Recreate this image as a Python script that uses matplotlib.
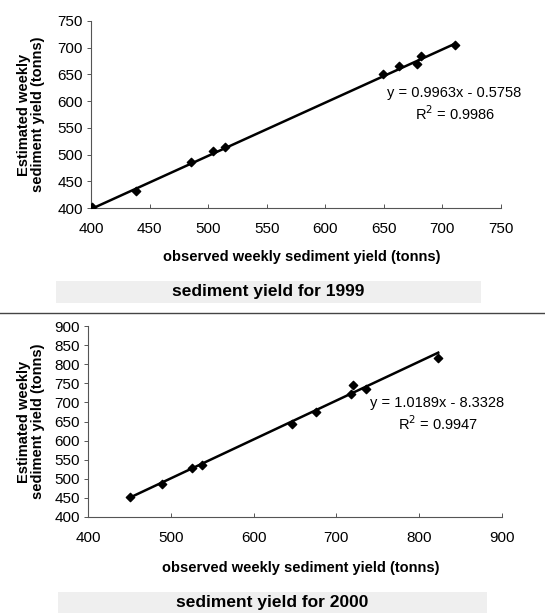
import matplotlib
matplotlib.use("Agg")
import matplotlib.pyplot as plt
from matplotlib.patches import Rectangle
from matplotlib.lines import Line2D

plt.rcParams['font.family'] = ['Liberation Sans', 'DejaVu Sans']

# 1999 data
obs_1999 = [401, 438, 485, 504, 514, 649, 663, 678, 682, 711]
est_1999 = [401, 432, 487, 506, 515, 650, 665, 670, 685, 705]
slope_1999, icpt_1999, r2_1999 = 0.9963, -0.5758, 0.9986

# 2000 data
obs_2000 = [451, 489, 526, 538, 646, 675, 718, 720, 736, 823]
est_2000 = [452, 487, 527, 536, 643, 676, 721, 746, 734, 815]
slope_2000, icpt_2000, r2_2000 = 1.0189, -8.3328, 0.9947

ticks_1999 = [400, 450, 500, 550, 600, 650, 700, 750]
ticks_2000_x = [400, 500, 600, 700, 800, 900]
ticks_2000_y = [400, 450, 500, 550, 600, 650, 700, 750, 800, 850, 900]

W, H = 545, 613
fig = plt.figure(figsize=(W/100, H/100), dpi=100)

def px(x0, y0, x1, y1):
    return [x0/W, 1 - y1/H, (x1-x0)/W, (y1-y0)/H]

def style(ax):
    for s in ['top', 'right']:
        ax.spines[s].set_visible(False)
    for s in ['left', 'bottom']:
        ax.spines[s].set_color('#555555')
        ax.spines[s].set_linewidth(0.8)
    ax.tick_params(axis='both', labelsize=11, color='#555555', width=0.7, length=3)
    ax.tick_params(axis='x', direction='in', pad=10)
    ax.tick_params(axis='y', direction='out', pad=3)

def panel(rect, obs, est, slope, icpt, r2, xt, yt, eq_xy, title, title_box, xlabel_y):
    ax = fig.add_axes(px(*rect))
    style(ax)
    ax.scatter(obs, est, marker='D', s=18, color='black', zorder=3)
    x0, x1 = min(obs), max(obs)
    ax.plot([x0, x1], [slope*x0+icpt, slope*x1+icpt], color='black', lw=1.8, zorder=2)
    ax.set_xlim(xt[0], xt[-1])
    ax.set_ylim(yt[0], yt[-1])
    ax.set_xticks(xt)
    ax.set_yticks(yt)
    fig.text(31/W, 1-(rect[1]+rect[3])/2/H, 'Estimated weekly\nsediment yield (tonns)', fontsize=10.5,
             fontweight='bold', rotation=90, ha='center', va='center', linespacing=1.05)
    fig.text((rect[0]+rect[2])/2/W + 0.01, 1-xlabel_y/H, 'observed weekly sediment yield (tonns)',
             fontsize=10.5, fontweight='bold', ha='center', va='center')
    sign = '-' if icpt < 0 else '+'
    fig.text(eq_xy[0]/W, 1-eq_xy[1]/H, f'y = {slope:.4f}x {sign} {abs(icpt):.4f}', fontsize=10.5, ha='center', va='center')
    fig.text((eq_xy[0]+1)/W, 1-(eq_xy[1]+21)/H, f'R$^2$ = {r2:.4f}', fontsize=10.5, ha='center', va='center')
    bx0, by0, bx1, by1 = title_box
    fig.patches.append(Rectangle((bx0/W, 1-by1/H), (bx1-bx0)/W, (by1-by0)/H, transform=fig.transFigure,
                                 facecolor='#efefef', edgecolor='none', zorder=0))
    fig.text((bx0+bx1)/2/W, 1-((by0+by1)/2)/H, title, fontsize=12.5, fontweight='bold', ha='center', va='center')
    return ax

panel((91, 21, 501, 208), obs_1999, est_1999, slope_1999, icpt_1999, r2_1999,
      ticks_1999, ticks_1999, (454, 93), 'sediment yield for 1999', (56, 281, 481, 303), 257)
panel((88, 326, 502, 517), obs_2000, est_2000, slope_2000, icpt_2000, r2_2000,
      ticks_2000_x, ticks_2000_y, (437, 403), 'sediment yield for 2000', (58, 592, 487, 613), 568)

fig.add_artist(Line2D([0, 1], [1-313/H, 1-313/H], transform=fig.transFigure, color='#444444', lw=1.0))

fig.savefig('out.png', dpi=100)
